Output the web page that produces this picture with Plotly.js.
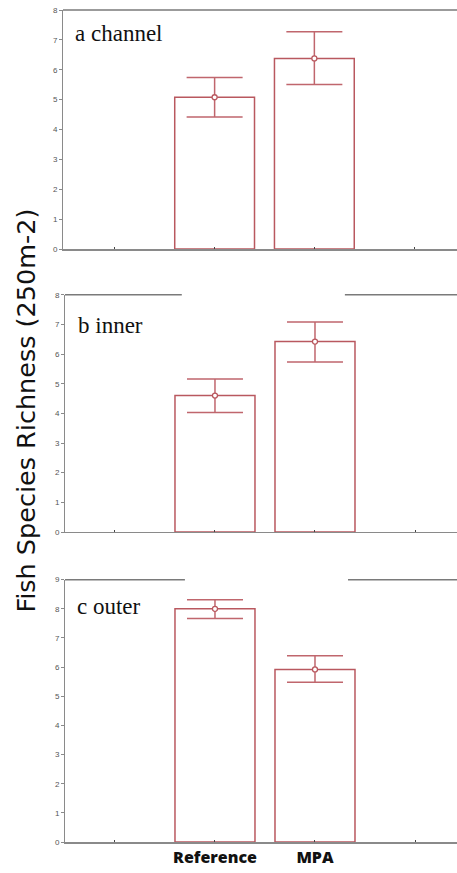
<!DOCTYPE html>
<html>
<head>
<meta charset="utf-8">
<script src="https://cdn.plot.ly/plotly-3.0.1.min.js"></script>
<style>html,body{margin:0;padding:0;background:#fff;}#chart{width:457px;height:873px;}</style>
</head>
<body>
<div id="chart"></div>
<script>
// ---- data ----
const categories = ['Reference', 'MPA'];
const tickLabels = ['', 'Reference', 'MPA', ''];

const channelMean  = [5.08, 6.38];
const channelUpper = [5.74, 7.27];
const channelLower = [4.42, 5.51];

const innerMean  = [4.60, 6.42];
const innerUpper = [5.16, 7.08];
const innerLower = [4.03, 5.73];

const outerMean  = [8.00, 5.92];
const outerUpper = [8.31, 6.39];
const outerLower = [7.67, 5.48];

const panelLabels = ['a channel', 'b inner', 'c outer'];
const yTitle = 'Fish Species Richness (250m-2)';

// ---- build ----
const xPos = categories.map((c, i) => i + 1);
const barColor = '#b9585f';
const errColor = '#c0666d';

function panel(mean, upper, lower, xa, ya) {
  return [
    {
      type: 'bar', x: xPos, y: mean, xaxis: xa, yaxis: ya, width: 0.8,
      marker: {color: '#ffffff', line: {color: barColor, width: 1.5}},
      hoverinfo: 'skip'
    },
    {
      type: 'scatter', mode: 'markers', x: xPos, y: mean, xaxis: xa, yaxis: ya,
      marker: {symbol: 'circle', size: 5, color: '#ffffff', line: {color: barColor, width: 1.3}},
      error_y: {
        type: 'data', symmetric: false,
        array: upper.map((u, i) => u - mean[i]),
        arrayminus: lower.map((l, i) => mean[i] - l),
        color: errColor, thickness: 1.5, width: 28
      }
    }
  ];
}

const data = [].concat(
  panel(outerMean, outerUpper, outerLower, 'x', 'y'),
  panel(innerMean, innerUpper, innerLower, 'x2', 'y2'),
  panel(channelMean, channelUpper, channelLower, 'x3', 'y3')
);

const tickFont = {family: 'Liberation Sans, Arial, sans-serif', size: 8, color: '#555'};
function yax(domain, range, anchor) {
  return {
    domain: domain, range: range, anchor: anchor, dtick: 1, tick0: 0,
    showgrid: false, zeroline: false, showline: true, linecolor: '#8a8a8a', linewidth: 1,
    ticks: 'outside', ticklen: 3, tickcolor: '#8a8a8a', tickfont: tickFont, fixedrange: true
  };
}
function xax(domain, range, anchor, labels) {
  return {
    domain: domain, range: range, anchor: anchor,
    tickmode: 'array', tickvals: [0, 1, 2, 3], ticktext: tickLabels,
    showticklabels: labels,
    tickfont: {family: 'Open Sans, sans-serif', size: 16, weight: 800, color: '#111'},
    showgrid: false, zeroline: false, showline: true, linecolor: '#8a8a8a', linewidth: 1.5,
    ticks: 'inside', ticklen: 2, tickcolor: '#444', fixedrange: true
  };
}

const labelFont = {family: 'Liberation Serif, Times New Roman, serif', size: 23, color: '#111'};

const layout = {
  width: 457, height: 873,
  margin: {l: 63, r: 0, t: 10, b: 31},
  paper_bgcolor: '#ffffff', plot_bgcolor: '#ffffff',
  showlegend: false, bargap: 0,
  xaxis:  xax([0.005, 1], [-0.5, 3.42], 'y', true),
  xaxis2: xax([0.005, 1], [-0.5, 3.42], 'y2', false),
  xaxis3: xax([0, 1], [-0.52, 3.43], 'y3', false),
  yaxis:  yax([0, 0.3153], [0, 9], 'x'),
  yaxis2: yax([0.3726, 0.6578], [0, 8], 'x2'),
  yaxis3: yax([0.7127, 1], [0, 8], 'x3'),
  annotations: [
    {text: panelLabels[0], xref: 'x3 domain', yref: 'y3 domain', x: 0.025, y: 0.9,
     xanchor: 'left', yanchor: 'middle', showarrow: false, font: labelFont},
    {text: panelLabels[1], xref: 'x2 domain', yref: 'y2 domain', x: 0.028, y: 0.872,
     xanchor: 'left', yanchor: 'middle', showarrow: false, font: labelFont},
    {text: panelLabels[2], xref: 'x domain', yref: 'y domain', x: 0.0255, y: 0.896,
     xanchor: 'left', yanchor: 'middle', showarrow: false, font: labelFont},
    {text: yTitle, xref: 'paper', yref: 'paper', x: -0.095, y: 0.518, textangle: -90,
     xanchor: 'center', yanchor: 'middle', showarrow: false,
     font: {family: 'DejaVu Sans, sans-serif', size: 25.5, color: '#111'}}
  ],
  shapes: [
    {type: 'line', xref: 'x3 domain', yref: 'y3 domain', x0: 0, x1: 1, y0: 1, y1: 1,
     line: {color: '#7a7a7a', width: 1.5}},
    {type: 'line', xref: 'x2 domain', yref: 'y2 domain', x0: 0, x1: 0.298, y0: 1, y1: 1,
     line: {color: '#7a7a7a', width: 1.5}},
    {type: 'line', xref: 'x2 domain', yref: 'y2 domain', x0: 0.714, x1: 1, y0: 1, y1: 1,
     line: {color: '#7a7a7a', width: 1.5}},
    {type: 'line', xref: 'x domain', yref: 'y domain', x0: 0, x1: 0.306, y0: 1, y1: 1,
     line: {color: '#7a7a7a', width: 1.5}},
    {type: 'line', xref: 'x domain', yref: 'y domain', x0: 0.722, x1: 1, y0: 1, y1: 1,
     line: {color: '#7a7a7a', width: 1.5}}
  ]
};

Plotly.newPlot('chart', data, layout, {displayModeBar: false, staticPlot: true});
</script>
</body>
</html>
